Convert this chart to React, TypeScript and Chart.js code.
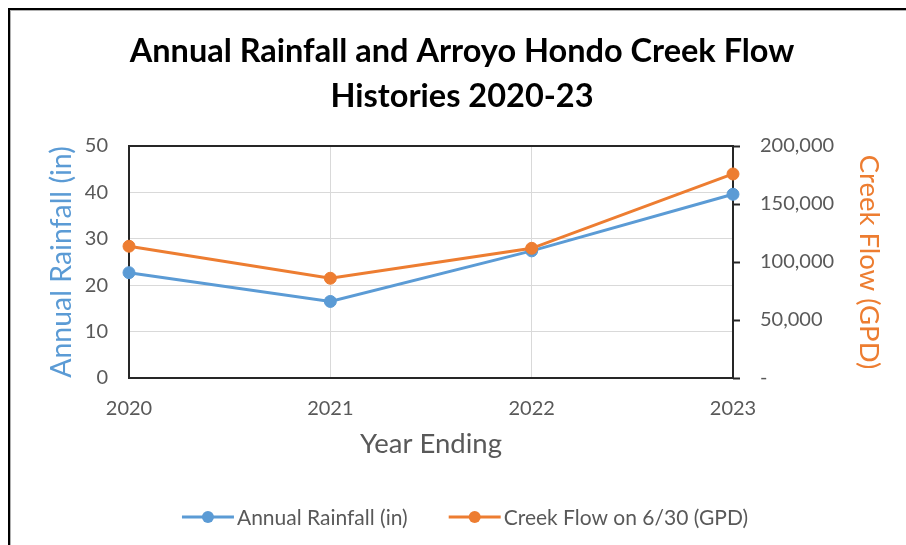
import React, { useEffect, useRef } from "react";
import { Chart, registerables } from "chart.js";

Chart.register(...registerables);

const years = ["2020", "2021", "2022", "2023"];
const annualRainfall = [22.7, 16.5, 27.4, 39.6];
const creekFlow = [113600, 86000, 111800, 175900];
const titleLines = ["Annual Rainfall and Arroyo Hondo Creek Flow", "Histories 2020-23"];

const BLUE = "#5B9BD5";
const ORANGE = "#ED7D31";
const TEXT = "#595959";
const FONT = "Lato, 'Open Sans', sans-serif";

const plotBorder = {
  id: "plotBorder",
  beforeDatasetsDraw(chart: any) {
    const { ctx, chartArea } = chart;
    const { left, top, right, bottom } = chartArea;
    ctx.save();
    ctx.strokeStyle = "#262626";
    ctx.lineWidth = 2;
    ctx.strokeRect(left, top, right - left, bottom - top);
    ctx.restore();
  },
};

const customLegend = {
  id: "customLegend",
  afterDraw(chart: any) {
    const { ctx } = chart;
    const lineLen = 52;
    const textGap = 3;
    const itemGap = 41;
    const centerX = 465;
    const y = 517;
    ctx.save();
    ctx.font = `21px ${FONT}`;
    const items = chart.data.datasets.map((ds: any) => ({
      label: ds.label,
      color: ds.borderColor,
      w: lineLen + textGap + ctx.measureText(ds.label).width,
    }));
    const total = items.reduce((s: number, it: any) => s + it.w, 0) + itemGap * (items.length - 1);
    let x = centerX - total / 2;
    for (const it of items) {
      ctx.strokeStyle = it.color;
      ctx.lineWidth = 3;
      ctx.beginPath();
      ctx.moveTo(x, y);
      ctx.lineTo(x + lineLen, y);
      ctx.stroke();
      ctx.fillStyle = it.color;
      ctx.beginPath();
      ctx.arc(x + lineLen / 2, y, 6, 0, Math.PI * 2);
      ctx.fill();
      ctx.fillStyle = TEXT;
      ctx.textAlign = "left";
      ctx.textBaseline = "middle";
      ctx.fillText(it.label, x + lineLen + textGap, y + 1);
      x += it.w + itemGap;
    }
    ctx.restore();
  },
};

export default function App() {
  const canvasRef = useRef<HTMLCanvasElement | null>(null);

  useEffect(() => {
    if (!canvasRef.current) return;
    const chart = new Chart(canvasRef.current, {
      type: "line",
      data: {
        labels: years,
        datasets: [
          {
            label: "Annual Rainfall (in)",
            data: annualRainfall,
            yAxisID: "y",
            borderColor: BLUE,
            backgroundColor: BLUE,
            borderWidth: 3,
            pointRadius: 6,
            pointBorderWidth: 1,
            pointBackgroundColor: BLUE,
            pointBorderColor: BLUE,
            tension: 0,
            clip: false as any,
            order: 1,
          },
          {
            label: "Creek Flow on 6/30 (GPD)",
            data: creekFlow,
            yAxisID: "y1",
            borderColor: ORANGE,
            backgroundColor: ORANGE,
            borderWidth: 3,
            pointRadius: 6,
            pointBorderWidth: 1,
            pointBackgroundColor: ORANGE,
            pointBorderColor: ORANGE,
            tension: 0,
            clip: false as any,
            order: 0,
          },
        ],
      },
      options: {
        responsive: false,
        animation: false,
        devicePixelRatio: 1,
        layout: { padding: { top: 29, left: 18, right: 0, bottom: 67 } },
        plugins: {
          legend: { display: false },
          tooltip: { enabled: false },
          title: {
            display: true,
            text: titleLines,
            color: "#000",
            font: { family: FONT, size: 32.5, weight: "bold", lineHeight: 45 / 32.5 },
            padding: { top: 0, bottom: 27 },
          },
        },
        scales: {
          x: {
            type: "category",
            offset: false,
            grid: { color: "#D9D9D9", lineWidth: 1, drawTicks: false },
            border: { display: false },
            ticks: { color: TEXT, font: { family: FONT, size: 20 }, padding: 19, maxRotation: 0 },
            title: {
              display: true,
              text: "Year Ending",
              color: TEXT,
              font: { family: FONT, size: 27.5, lineHeight: 1.2 },
              padding: { top: 0, bottom: 17 },
            },
            afterFit(scale: any) {
              scale.height = 100;
            },
          },
          y: {
            type: "linear",
            position: "left",
            min: 0,
            max: 50,
            grid: { color: "#D9D9D9", lineWidth: 1, drawTicks: false },
            border: { display: false },
            ticks: { stepSize: 10, color: TEXT, font: { family: FONT, size: 20 }, padding: 21 },
            title: {
              display: true,
              text: "Annual Rainfall (in)",
              color: BLUE,
              font: { family: FONT, size: 28.5, lineHeight: 1.2 },
              padding: { top: 27 },
            },
            afterFit(scale: any) {
              scale.width = 111;
            },
          },
          y1: {
            type: "linear",
            position: "right",
            min: 0,
            max: 200000,
            grid: {
              drawOnChartArea: false,
              drawTicks: true,
              tickLength: 7,
              tickColor: "#262626",
              tickWidth: 2,
            } as any,
            border: { display: false },
            ticks: {
              stepSize: 50000,
              color: TEXT,
              font: { family: FONT, size: 20 },
              padding: 20,
              callback: (v: any) => (Number(v) === 0 ? "-" : Number(v).toLocaleString("en-US")),
            },
            title: {
              display: true,
              text: "Creek Flow (GPD)",
              color: ORANGE,
              font: { family: FONT, size: 27.5, lineHeight: 1.2 },
              padding: { top: 21 },
            },
            afterFit(scale: any) {
              scale.width = 173;
            },
          },
        },
      },
      plugins: [plotBorder, customLegend],
    });
    return () => chart.destroy();
  }, []);

  return (
    <div
      style={{
        position: "absolute",
        left: 0,
        top: 0,
        width: 906,
        height: 545,
        background: "#fff",
        overflow: "hidden",
      }}
    >
      <div
        style={{
          position: "absolute",
          left: 8,
          top: 8,
          right: 0,
          bottom: 0,
          borderLeft: "2px solid #000",
          borderTop: "2px solid #000",
          boxShadow: "inset 1px 1px 0 #b0b0b0",
        }}
      />
      <canvas
        ref={canvasRef}
        width={906}
        height={545}
        style={{ position: "absolute", left: 0, top: 0, width: 906, height: 545, display: "block" }}
      />
    </div>
  );
}
